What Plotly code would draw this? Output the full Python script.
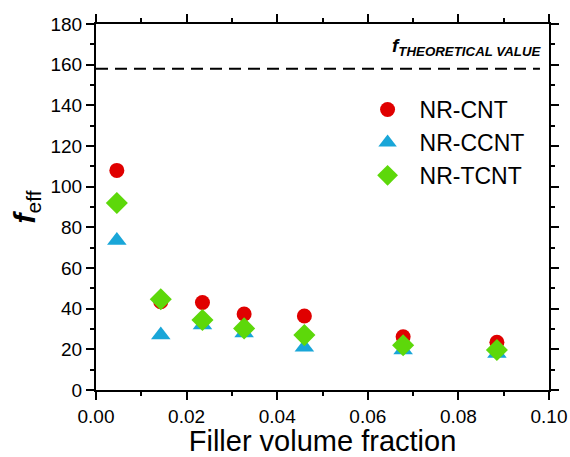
import plotly.graph_objects as go

x_vals = [0.0046, 0.0143, 0.0235, 0.0327, 0.046, 0.0678, 0.0885]
nr_cnt = [108, 43.4, 43, 37.4, 36.4, 26.2, 23.5]
nr_ccnt = [73.5, 27, 32, 28, 21, 19.7, 18]
nr_tcnt = [92, 44.6, 34.4, 30.3, 27, 22, 19.7]
theoretical = 158

FONT = "Liberation Sans, Arial, sans-serif"

fig = go.Figure()
fig.add_trace(go.Scatter(x=x_vals, y=nr_cnt, mode="markers", name="NR-CNT",
                         marker=dict(symbol="circle", size=15, color="#E00000")))
fig.add_trace(go.Scatter(x=x_vals, y=nr_ccnt, mode="markers", name="NR-CCNT",
                         marker=dict(symbol="triangle-up", size=17, color="#19A6D8")))
fig.add_trace(go.Scatter(x=x_vals, y=nr_tcnt, mode="markers", name="NR-TCNT",
                         marker=dict(symbol="diamond", size=17, color="#5DD80A")))

fig.add_shape(type="line", xref="x", x0=0, x1=0.098, yref="y", y0=theoretical, y1=theoretical,
              line=dict(color="black", width=2, dash="12px,7px"))
fig.add_annotation(x=0.0988, y=162, xref="x", yref="y", xanchor="right", yanchor="bottom",
                   text="<b><i>f</i></b><sub><b><i>THEORETICAL VALUE</i></b></sub>",
                   showarrow=False, font=dict(family=FONT, size=19, color="black"))

axis_common = dict(showline=True, linecolor="black", linewidth=2, mirror="allticks",
                   ticks="outside", ticklen=8, tickwidth=1.5, tickcolor="black",
                   showgrid=False, zeroline=False, automargin=False,
                   tickfont=dict(family=FONT, size=19, color="black"))

fig.update_xaxes(range=[0, 0.1], dtick=0.02, tickformat=".2f",
                 minor=dict(dtick=0.01, ticks="outside", ticklen=4, tickcolor="black", tickwidth=1.5),
                 title=dict(text="Filler volume fraction", font=dict(family=FONT, size=29, color="black"), standoff=6),
                 **axis_common)
fig.update_yaxes(range=[0, 180], dtick=20,
                 minor=dict(dtick=10, ticks="outside", ticklen=4, tickcolor="black", tickwidth=1.5),
                 title=dict(text="<b><i>f</i></b><sub>eff</sub>", font=dict(family=FONT, size=30, color="black"), standoff=6),
                 **axis_common)

fig.update_layout(
    width=570, height=457,
    margin=dict(l=96, r=21, t=24, b=67),
    plot_bgcolor="white", paper_bgcolor="white",
    legend=dict(x=0.573, y=0.825, xanchor="left", yanchor="top",
                font=dict(family=FONT, size=23, color="black"),
                bgcolor="rgba(0,0,0,0)", itemsizing="trace", itemwidth=54, tracegroupgap=0),
)

fig.write_html("out.html")
